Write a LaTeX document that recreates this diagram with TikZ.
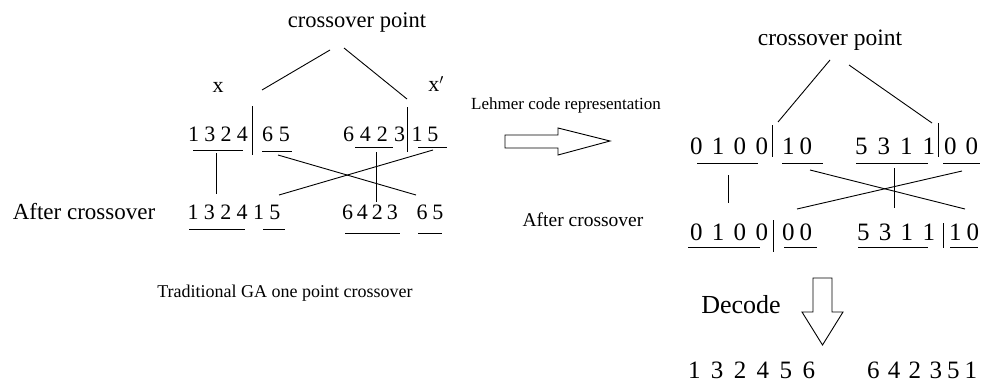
\documentclass[tikz,border=0pt]{standalone}
\usepackage{fontspec}
\setmainfont{Liberation Serif}
\newcommand{\spreadto}[2]{\makebox[#1pt][s]{#2}}
\newcommand{\fsz}[1]{\fontsize{#1}{#1}\selectfont}
\begin{document}
\begin{tikzpicture}[x=1pt,y=-1pt,
  txt/.style={inner sep=0pt},
  digl/.style={inner sep=0pt,font=\fsz{22}},
  digr/.style={inner sep=0pt,font=\fsz{25}},
  link/.style={line width=0.9pt},
  uline/.style={line width=0.8pt},
  blockarrow/.style={line width=0.9pt,line join=miter}]
\useasboundingbox (0,0) rectangle (985,386);

\node[txt,font=\fsz{22.5}] (cpl) at (357,22) {crossover point};
\node[txt,font=\fsz{22}] (xa) at (218,87) {x};
\node[txt,font=\fsz{22}] (xb) at (436,84) {x$'$};
\node[digl] (a1) at (218,134) {\spreadto{60}{1 3 2 4}};
\node[digl] (a2) at (276,134) {\spreadto{28}{6 5}};
\node[digl] (b1) at (374,134) {\spreadto{62}{6 4 2 3}};
\node[digl] (b2) at (425,134) {\spreadto{27}{1 5}};
\node[txt,font=\fsz{23}] (afl) at (84,212) {After crossover};
\node[digl] (c1) at (234,212) {\spreadto{93}{1 3 2 4 1 5}};
\node[digl] (d1) at (370,212) {\spreadto{56}{6 4 2 3}};
\node[digl] (d2) at (430,212) {\spreadto{27}{6 5}};
\node[txt,font=\fsz{18}] (trad) at (285,293) {Traditional GA one point crossover};

\draw[link] (252,106) -- (252,155);
\draw[link] (407,107) -- (407,152);
\draw[uline] (193,150) -- (243,150);
\draw[uline] (262,151) -- (292,151);
\draw[uline] (355,147) -- (393,147);
\draw[uline] (418,147) -- (447,147);
\draw[uline] (189,229) -- (245,229);
\draw[uline] (263,229) -- (285,229);
\draw[uline] (345,233) -- (400,233);
\draw[uline] (418,233) -- (442,233);

\coordinate (pl1) at (330,50);
\coordinate (pl2) at (262,90);
\coordinate (pr1) at (344,48);
\coordinate (pr2) at (407,99);
\coordinate (ka1) at (216,153);
\coordinate (ka2) at (216,194);
\coordinate (kb1) at (376,152);
\coordinate (kb2) at (376,202);
\coordinate (sa1) at (278,155);
\coordinate (sa2) at (416,195);
\coordinate (sb1) at (433,150);
\coordinate (sb2) at (279,195);
\draw[link] (pl1) -- (pl2);
\draw[link] (pr1) -- (pr2);
\draw[link] (ka1) -- (ka2);
\draw[link] (kb1) -- (kb2);
\draw[link] (sa1) -- (sa2);
\draw[link] (sb1) -- (sb2);

\node[txt,font=\fsz{17}] (lehmer) at (566,105) {Lehmer code representation};
\draw[blockarrow] (505,135) -- (558,135) -- (558,128) -- (610,141) -- (558,155) -- (558,148) -- (505,148) -- cycle;
\node[txt,font=\fsz{19.5}] (afm) at (583,220) {After crossover};

\node[txt,font=\fsz{23.5}] (cpr) at (830,40) {crossover point};
\node[digr] (e1) at (729,146) {\spreadto{78}{0 1 0 0}};
\node[digr] (e2) at (797,146) {\spreadto{30}{1 0}};
\node[digr] (f1) at (895,146) {\spreadto{80}{5 3 1 1}};
\node[digr] (f2) at (961,146) {\spreadto{34}{0 0}};
\node[digr] (g1) at (729,232) {\spreadto{78}{0 1 0 0}};
\node[digr] (g2) at (797,232) {\spreadto{30}{0 0}};
\node[digr] (h1) at (896,232) {\spreadto{78}{5 3 1 1}};
\node[digr] (h2) at (964,232) {\spreadto{30}{1 0}};

\draw[link] (772,125) -- (772,157);
\draw[link] (938,123) -- (938,157);
\draw[link] (773,220) -- (773,252);
\draw[link] (943,223) -- (943,248);
\draw[uline] (697,163) -- (758,163);
\draw[uline] (782,163) -- (823,163);
\draw[uline] (856,163) -- (928,163);
\draw[uline] (943,163) -- (980,163);
\draw[uline] (688,247) -- (760,247);
\draw[uline] (784,247) -- (817,247);
\draw[uline] (858,247) -- (928,247);
\draw[uline] (950,247) -- (978,247);

\coordinate (ql1) at (830,60);
\coordinate (ql2) at (778,122);
\coordinate (qr1) at (849,65);
\coordinate (qr2) at (932,123);
\coordinate (ma1) at (728,175);
\coordinate (ma2) at (728,203);
\coordinate (mb1) at (894,168);
\coordinate (mb2) at (894,208);
\coordinate (ta1) at (810,170);
\coordinate (ta2) at (965,209);
\coordinate (tb1) at (962,171);
\coordinate (tb2) at (797,209);
\draw[link] (ql1) -- (ql2);
\draw[link] (qr1) -- (qr2);
\draw[link] (ma1) -- (ma2);
\draw[link] (mb1) -- (mb2);
\draw[link] (ta1) -- (ta2);
\draw[link] (tb1) -- (tb2);

\node[txt,font=\fsz{26}] (dec) at (741,305) {Decode};
\draw[blockarrow] (813,278) -- (832,278) -- (832,312) -- (843,312) -- (822.5,345) -- (802,312) -- (813,312) -- cycle;
\node[digr] (p1) at (751.5,370) {\spreadto{127}{1 3 2 4 5 6}};
\node[digr] (p2) at (922,370) {\spreadto{110}{6 4 2 3\kern5pt5\kern5pt1}};
\end{tikzpicture}
\end{document}
